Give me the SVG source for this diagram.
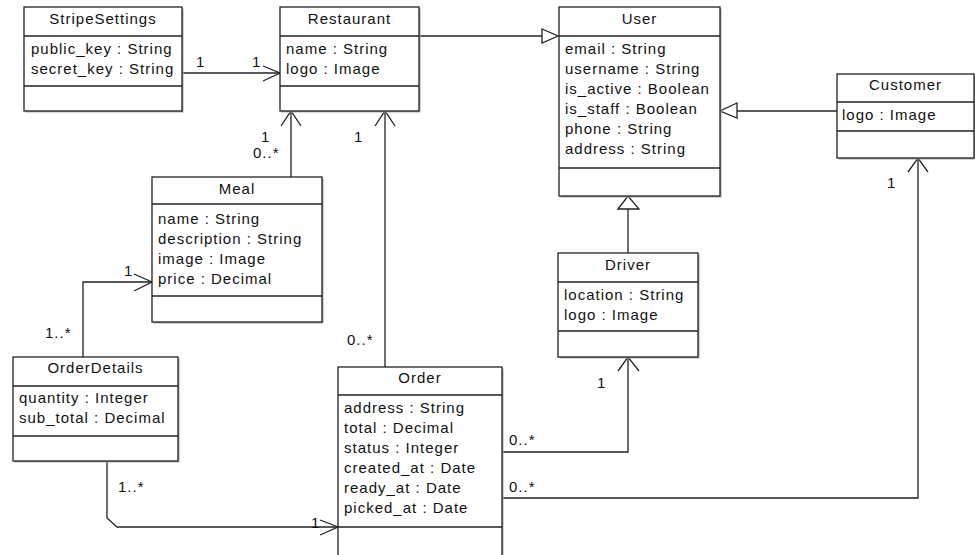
<svg xmlns="http://www.w3.org/2000/svg" width="975" height="555" viewBox="0 0 975 555">
<style>
  .box{fill:#fff;stroke:#222;stroke-width:1.3}
  .sh{fill:#aaa;stroke:none}
  .div{stroke:#222;stroke-width:1.3}
  text{font-family:"Liberation Sans",Arial,sans-serif;font-size:15px;fill:#111;letter-spacing:1px}
  .t{text-anchor:middle}
  .c{fill:none;stroke:#222;stroke-width:1.3}
  .tri{fill:#fff;stroke:#222;stroke-width:1.3}
</style>
<rect width="975" height="555" fill="#fff"/>
<g id="connectors">
  <line class="c" x1="182" y1="73" x2="280" y2="73"/>
  <polyline class="c" points="263,66 280,73 263,81"/>
  <line class="c" x1="419" y1="36" x2="542" y2="36"/>
  <polygon class="tri" points="542,29 558,36 542,43"/>
  <line class="c" x1="837" y1="111" x2="737" y2="111"/>
  <polygon class="tri" points="737,103 720,111 737,118"/>
  <line class="c" x1="628" y1="253" x2="628" y2="209"/>
  <polygon class="tri" points="618,209 628,196 639,209"/>
  <line class="c" x1="291" y1="177" x2="291" y2="111"/>
  <polyline class="c" points="281,126 291,111 301,126"/>
  <line class="c" x1="385" y1="367" x2="385" y2="111"/>
  <polyline class="c" points="375,126 385,111 395,126"/>
  <polyline class="c" points="83,357 83,282 152,282"/>
  <polyline class="c" points="134,274 152,282 134,291"/>
  <polyline class="c" points="107,461 107,518 117,527 338,527"/>
  <polyline class="c" points="320,520 338,527 320,535"/>
  <polyline class="c" points="502,452 628,452 628,357"/>
  <polyline class="c" points="618,371 628,357 639,371"/>
  <polyline class="c" points="502,498 918,498 918,158"/>
  <polyline class="c" points="908,172 918,158 928,172"/>
  <text x="196" y="67">1</text>
  <text x="252" y="67">1</text>
  <text x="261" y="142">1</text>
  <text x="253" y="158">0..*</text>
  <text x="354" y="142">1</text>
  <text x="347" y="345">0..*</text>
  <text x="887" y="188">1</text>
  <text x="124" y="276">1</text>
  <text x="45" y="338">1..*</text>
  <text x="118" y="492">1..*</text>
  <text x="311" y="528">1</text>
  <text x="597" y="388">1</text>
  <text x="509" y="445">0..*</text>
  <text x="509" y="492">0..*</text>
</g>
<g id="StripeSettings">
  <rect class="sh" x="25.5" y="8.5" width="158" height="104"/>
  <rect class="box" x="24" y="7" width="158" height="104"/>
  <line class="div" x1="24" y1="36" x2="182" y2="36"/>
  <line class="div" x1="24" y1="86" x2="182" y2="86"/>
  <text class="t" x="103" y="24">StripeSettings</text>
  <text x="31" y="54">public_key : String</text>
  <text x="31" y="74">secret_key : String</text>
</g>
<g id="Restaurant">
  <rect class="sh" x="281.5" y="8.5" width="139" height="104"/>
  <rect class="box" x="280" y="7" width="139" height="104"/>
  <line class="div" x1="280" y1="36" x2="419" y2="36"/>
  <line class="div" x1="280" y1="86" x2="419" y2="86"/>
  <text class="t" x="349.5" y="24">Restaurant</text>
  <text x="286" y="54">name : String</text>
  <text x="286" y="74">logo : Image</text>
</g>
<g id="User">
  <rect class="sh" x="560.5" y="8.5" width="161" height="189"/>
  <rect class="box" x="559" y="7" width="161" height="189"/>
  <line class="div" x1="559" y1="36" x2="720" y2="36"/>
  <line class="div" x1="559" y1="168" x2="720" y2="168"/>
  <text class="t" x="639.5" y="24">User</text>
  <text x="565" y="54">email : String</text>
  <text x="565" y="74">username : String</text>
  <text x="565" y="94">is_active : Boolean</text>
  <text x="565" y="114">is_staff : Boolean</text>
  <text x="565" y="134">phone : String</text>
  <text x="565" y="154">address : String</text>
</g>
<g id="Customer">
  <rect class="sh" x="838.5" y="75.5" width="137" height="84"/>
  <rect class="box" x="837" y="74" width="137" height="84"/>
  <line class="div" x1="837" y1="102" x2="974" y2="102"/>
  <line class="div" x1="837" y1="131" x2="974" y2="131"/>
  <text class="t" x="905.5" y="90">Customer</text>
  <text x="842" y="120">logo : Image</text>
</g>
<g id="Meal">
  <rect class="sh" x="153.5" y="178.5" width="170" height="145"/>
  <rect class="box" x="152" y="177" width="170" height="145"/>
  <line class="div" x1="152" y1="204" x2="322" y2="204"/>
  <line class="div" x1="152" y1="296" x2="322" y2="296"/>
  <text class="t" x="237" y="194">Meal</text>
  <text x="158" y="224">name : String</text>
  <text x="158" y="244">description : String</text>
  <text x="158" y="264">image : Image</text>
  <text x="158" y="284">price : Decimal</text>
</g>
<g id="Driver">
  <rect class="sh" x="559.5" y="254.5" width="140" height="104"/>
  <rect class="box" x="558" y="253" width="140" height="104"/>
  <line class="div" x1="558" y1="282" x2="698" y2="282"/>
  <line class="div" x1="558" y1="331" x2="698" y2="331"/>
  <text class="t" x="628" y="270">Driver</text>
  <text x="564" y="300">location : String</text>
  <text x="564" y="320">logo : Image</text>
</g>
<g id="OrderDetails">
  <rect class="sh" x="14.5" y="358.5" width="165" height="104"/>
  <rect class="box" x="13" y="357" width="165" height="104"/>
  <line class="div" x1="13" y1="386" x2="178" y2="386"/>
  <line class="div" x1="13" y1="436" x2="178" y2="436"/>
  <text class="t" x="95.5" y="373">OrderDetails</text>
  <text x="19" y="403">quantity : Integer</text>
  <text x="19" y="423">sub_total : Decimal</text>
</g>
<g id="Order">
  <rect class="sh" x="339.5" y="368.5" width="164" height="200"/>
  <rect class="box" x="338" y="367" width="164" height="200"/>
  <line class="div" x1="338" y1="395" x2="502" y2="395"/>
  <line class="div" x1="338" y1="527" x2="502" y2="527"/>
  <text class="t" x="420" y="383">Order</text>
  <text x="344" y="413">address : String</text>
  <text x="344" y="433">total : Decimal</text>
  <text x="344" y="453">status : Integer</text>
  <text x="344" y="473">created_at : Date</text>
  <text x="344" y="493">ready_at : Date</text>
  <text x="344" y="513">picked_at : Date</text>
</g>
</svg>
